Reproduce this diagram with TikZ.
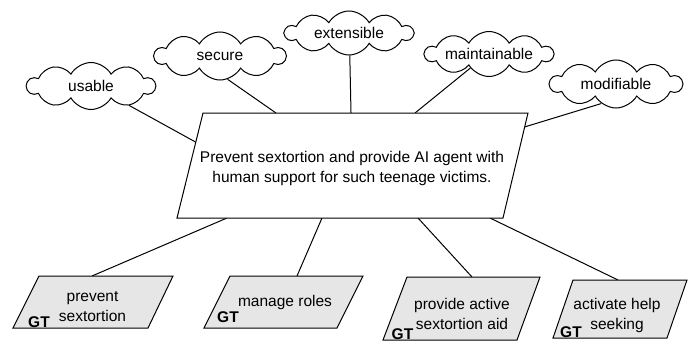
\documentclass[tikz,border=0pt]{standalone}
\usepackage{fontspec}
\setmainfont{Liberation Sans}
\usetikzlibrary{shapes.symbols,calc}
\definecolor{gtfill}{HTML}{E6E6E6}
\tikzset{
  cloudbox/.style={cloud, draw=black, fill=white, line width=1bp, cloud puffs=10, cloud puff arc=120, cloud ignores aspect, inner sep=0pt, font=\fontsize{15.5bp}{19bp}\selectfont},
  link/.style={draw=black, line width=1bp},
  goalshape/.style={draw=black, line width=1bp, fill=white},
  taskshape/.style={draw=black, line width=1bp, fill=gtfill},
  boxtext/.style={align=center, inner sep=0pt, font=\fontsize{15.5bp}{20bp}\selectfont},
  gtmark/.style={inner sep=0pt, anchor=base, font=\fontsize{15.5bp}{19bp}\selectfont\bfseries},
}
\begin{document}
\begin{tikzpicture}[x=1bp,y=1bp]
\useasboundingbox (0,0) rectangle (696,343);
% central goal
\coordinate (g1) at (203,230); \coordinate (g2) at (528,230);
\coordinate (g3) at (503,125); \coordinate (g4) at (177,125);
% connection points on the goal
\coordinate (gu) at (195.5,201); \coordinate (gs) at (276,230);
\coordinate (ge) at (351,230); \coordinate (gm) at (415,230);
\coordinate (gmo) at (524.5,216);
\coordinate (gb1) at (227,125); \coordinate (gb2) at (322,125);
\coordinate (gb3) at (418,125); \coordinate (gb4) at (490,125);
% task boxes corners
\coordinate (a1) at (39,67); \coordinate (a2) at (173,67); \coordinate (a3) at (148,15); \coordinate (a4) at (13,15);
\coordinate (b1) at (230,67); \coordinate (b2) at (363,67); \coordinate (b3) at (337,15); \coordinate (b4) at (204,15);
\coordinate (c1) at (407,66); \coordinate (c2) at (540,66); \coordinate (c3) at (517,3); \coordinate (c4) at (383,3);
\coordinate (d1) at (573,63); \coordinate (d2) at (687,63); \coordinate (d3) at (667,5); \coordinate (d4) at (553,5);
\coordinate (at) at (92,67); \coordinate (bt) at (297,67); \coordinate (ct) at (472,66); \coordinate (dt) at (618,63);
% clouds
\node[cloudbox, minimum width=128bp, minimum height=47bp] (usable) at (91,257) {usable};
\node[cloudbox, minimum width=131bp, minimum height=48bp] (secure) at (220,287) {secure};
\node[cloudbox, minimum width=128bp, minimum height=44bp] (extensible) at (349,310) {extensible};
\node[cloudbox, minimum width=128bp, minimum height=45bp] (maintainable) at (489,289) {maintainable};
\node[cloudbox, minimum width=132bp, minimum height=48bp] (modifiable) at (616,259) {modifiable};
% connectors
\draw[link] (usable.-27) -- (gu);
\draw[link] (secure.-72) -- (gs);
\draw[link] (extensible.-88) -- (ge);
\draw[link] (maintainable.-143) -- (gm);
\draw[link] (modifiable.-127) -- (gmo);
\draw[link] (gb1) -- (at);
\draw[link] (gb2) -- (bt);
\draw[link] (gb3) -- (ct);
\draw[link] (gb4) -- (dt);
% shapes
\draw[goalshape] (g1) -- (g2) -- (g3) -- (g4) -- cycle;
\node[boxtext] (goal) at (352,175) {Prevent sextortion and provide AI agent with\\human support for such teenage victims.};
\draw[taskshape] (a1) -- (a2) -- (a3) -- (a4) -- cycle;
\draw[taskshape] (b1) -- (b2) -- (b3) -- (b4) -- cycle;
\draw[taskshape] (c1) -- (c2) -- (c3) -- (c4) -- cycle;
\draw[taskshape] (d1) -- (d2) -- (d3) -- (d4) -- cycle;
\node[boxtext] (ta) at (92.5,36) {prevent\\sextortion};
\node[boxtext] (tb) at (285,41) {manage roles};
\node[boxtext] (tc) at (462,29) {provide active\\sextortion aid};
\node[boxtext] (td) at (617,28) {activate help\\seeking};
\node[gtmark] (gta) at (39,16) {GT};
\node[gtmark] (gtb) at (228,21) {GT};
\node[gtmark] (gtc) at (402.5,4) {GT};
\node[gtmark] (gtd) at (571,6) {GT};
\end{tikzpicture}
\end{document}
